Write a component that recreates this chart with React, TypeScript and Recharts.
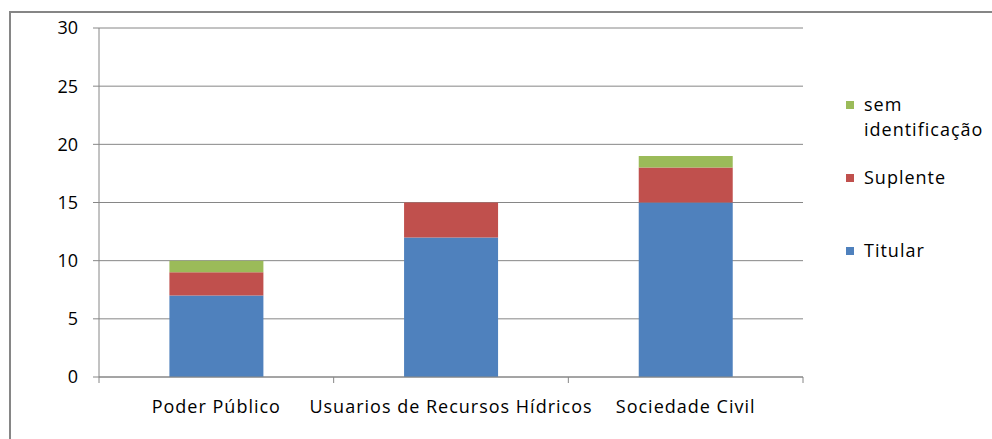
import React from 'react';
import { BarChart, Bar, XAxis, YAxis, CartesianGrid } from 'recharts';

const categories = ['Poder Público', 'Usuarios de Recursos Hídricos', 'Sociedade Civil'];
const titular = [7, 12, 15];
const suplente = [2, 3, 3];
const semIdentificacao = [1, 0, 1];
const yTicks = [0, 5, 10, 15, 20, 25, 30];

const series = [
  { key: 'titular', name: 'Titular', color: '#4F81BD' },
  { key: 'suplente', name: 'Suplente', color: '#C0504D' },
  { key: 'sem', name: 'sem identificação', color: '#9BBB59' },
];

const data = categories.map((name, i) => ({
  name,
  titular: titular[i],
  suplente: suplente[i],
  sem: semIdentificacao[i],
}));

const FONT = '"Open Sans", sans-serif';
const AXIS = '#868686';
const BAND = (803 - 99) / categories.length;

const CategoryTick = (props: any) => {
  const { x, y, payload, index } = props;
  const left = x - BAND / 2;
  return (
    <g>
      <line x1={left} y1={y - 8} x2={left} y2={y - 2} stroke={AXIS} />
      {index === categories.length - 1 && (
        <line x1={left + BAND} y1={y - 8} x2={left + BAND} y2={y - 2} stroke={AXIS} />
      )}
      <text x={x} y={y + 28} textAnchor="middle" fill="#000" fontSize={18} fontFamily={FONT} letterSpacing={1}>
        {payload.value}
      </text>
    </g>
  );
};

const LegendBox = () => (
  <div style={{ position: 'absolute', left: 846, top: 92, fontFamily: FONT, fontSize: 18, letterSpacing: 1, color: '#000' }}>
    {[...series].reverse().map((s) => (
      <div key={s.key} style={{ height: 73, display: 'flex', alignItems: 'flex-start' }}>
        <span
          style={{
            display: 'inline-block',
            width: 8,
            height: 8,
            background: s.color,
            marginTop: 9,
            marginRight: 10,
            flex: 'none',
          }}
        />
        <span style={{ width: 128, lineHeight: '25px', textAlign: 'left' }}>{s.name}</span>
      </div>
    ))}
  </div>
);

export default function App() {
  return (
    <div style={{ position: 'absolute', left: 0, top: 0, width: 992, height: 439, background: '#fff', overflow: 'hidden' }}>
      <div
        style={{
          position: 'absolute',
          left: 9,
          top: 11,
          width: 1000,
          height: 500,
          borderLeft: `2px solid ${AXIS}`,
          borderTop: `2px solid ${AXIS}`,
        }}
      />
      <div style={{ position: 'absolute', left: 0, top: 0 }}>
        <BarChart
          width={992}
          height={439}
          data={data}
          margin={{ top: 28, right: 189, left: 0, bottom: 22 }}
          barCategoryGap="30%"
        >
          <CartesianGrid vertical={false} stroke={AXIS} strokeWidth={1} />
          <XAxis
            dataKey="name"
            height={40}
            axisLine={{ stroke: AXIS }}
            tickLine={false}
            tick={<CategoryTick />}
            interval={0}
          />
          <YAxis
            width={99}
            domain={[0, 30]}
            ticks={yTicks}
            interval={0}
            axisLine={{ stroke: AXIS }}
            tickLine={{ stroke: AXIS }}
            tickSize={6}
            tickMargin={15}
            tick={{ fill: '#000', fontSize: 18, fontFamily: FONT }}
          />
          {series.map((s) => (
            <Bar key={s.key} dataKey={s.key} name={s.name} stackId="a" fill={s.color} isAnimationActive={false} />
          ))}
        </BarChart>
      </div>
      <LegendBox />
    </div>
  );
}
